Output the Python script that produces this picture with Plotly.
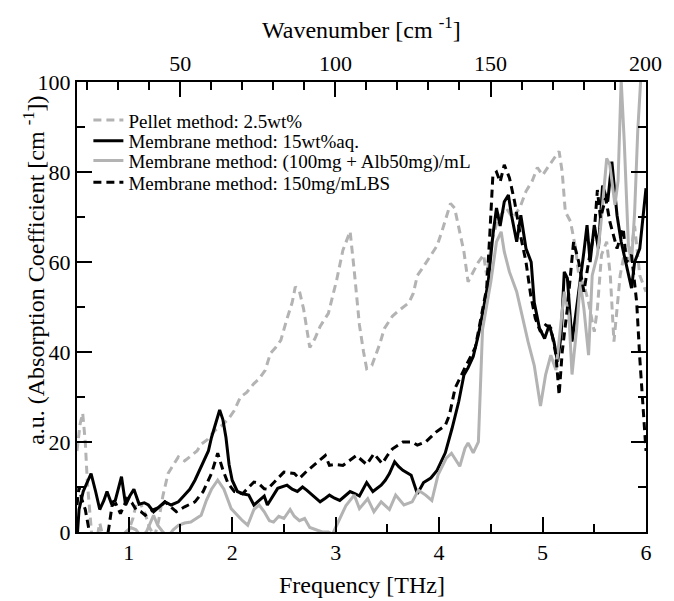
import plotly.graph_objects as go

# ---------------- data ----------------
THZ_TO_WN = 33.35641  # cm^-1 per THz

pellet_thz = [0.5, 0.53, 0.555, 0.58, 0.6, 0.64, 0.68, 0.72, 0.76, 0.82, 0.9, 0.98, 1.04, 1.08, 1.12, 1.16,
              1.2, 1.25, 1.29, 1.33, 1.38, 1.43, 1.48, 1.54, 1.61, 1.66, 1.70, 1.76, 1.83, 1.89, 1.96, 2.02,
              2.08, 2.14, 2.21, 2.26, 2.32, 2.37, 2.42, 2.47, 2.53, 2.58, 2.61, 2.65, 2.69, 2.72, 2.75, 2.8,
              2.85, 2.93, 3.01, 3.07, 3.11, 3.14, 3.18, 3.23, 3.27, 3.30, 3.35, 3.39, 3.43, 3.47, 3.55, 3.60,
              3.65, 3.71, 3.75, 3.79, 3.85, 3.90, 3.98, 4.03, 4.07, 4.11, 4.15, 4.19, 4.24, 4.28, 4.33, 4.38,
              4.43, 4.46, 4.51, 4.57, 4.65, 4.71, 4.78, 4.84, 4.9, 4.95, 5.0, 5.065, 5.11, 5.16, 5.19, 5.22,
              5.27, 5.32, 5.35, 5.40, 5.445, 5.50, 5.53, 5.57, 5.62, 5.655, 5.69, 5.72, 5.75, 5.80, 5.84, 5.89,
              5.94, 6.0]
pellet_abs = [18, 24, 26.4, 20, 11, 0, -3, 2, -2, -4, -4, -1, 3, 7, 6, 4,
              1, -1, 2.6, 8, 13, 15, 16.7, 15.8, 17, 18, 19.5, 20.5, 22.5, 23.5, 25, 27,
              30, 31, 33, 34, 36, 39.7, 41, 42.6, 47.4, 51, 54.5, 53.5, 49.6, 45, 41, 43,
              45.7, 48.6, 56, 62.6, 65, 66.8, 58, 46, 40, 36.3, 37, 39.3, 42, 45.2, 48, 49,
              50, 51, 53, 57, 59, 60.7, 63.6, 67, 70, 73, 72, 67.5, 62.3, 55.6, 57.8, 60,
              61.6, 57, 64.5, 69.8, 72, 69.8, 72, 75.7, 78, 81, 79.3, 81.6, 83, 84.6, 80, 71.2,
              69, 63, 57, 55, 51, 44.5, 49.6, 61.6, 64.5, 57, 42.3, 49.6, 57, 63, 60, 68,
              57, 53.4]

aq_thz = [0.49, 0.52, 0.56, 0.6, 0.636, 0.68, 0.72, 0.76, 0.79, 0.83, 0.87, 0.93, 0.97, 1.01, 1.05, 1.1,
          1.15, 1.19, 1.24, 1.29, 1.35, 1.41, 1.48, 1.54, 1.59, 1.64, 1.69, 1.735, 1.77, 1.80, 1.84, 1.879,
          1.91, 1.94, 1.97, 2.0, 2.05, 2.1, 2.16, 2.21, 2.27, 2.31, 2.34, 2.39, 2.44, 2.53, 2.58, 2.63,
          2.68, 2.72, 2.78, 2.85, 2.9, 2.94, 2.99, 3.04, 3.09, 3.14, 3.19, 3.23, 3.3, 3.36, 3.44, 3.48,
          3.52, 3.57, 3.61, 3.65, 3.73, 3.76, 3.79, 3.85, 3.92, 3.98, 4.02, 4.06, 4.125, 4.19, 4.24, 4.28,
          4.33, 4.38, 4.43, 4.475, 4.52, 4.555, 4.59, 4.63, 4.67, 4.70, 4.75, 4.79, 4.84, 4.89, 4.92, 4.97,
          5.02, 5.065, 5.11, 5.145, 5.18, 5.21, 5.24, 5.285, 5.32, 5.365, 5.40, 5.43, 5.46, 5.50, 5.54, 5.58,
          5.63, 5.67, 5.72, 5.76, 5.81, 5.86, 5.89, 5.94, 6.0]
aq_abs = [-5, 5, 9, 11, 13, 9, 5, 7, 9, 6.5, 7, 12.3, 6, 8, 9.5, 6.2,
          6.5, 6, 4.5, 5.5, 6.7, 6, 6.7, 8.2, 9.5, 11.5, 14, 15.9, 18, 21, 24, 27.1,
          25, 21, 15, 11.5, 9, 8.5, 8.2, 6, 7.2, 8, 6, 8, 9.7, 10.4, 9.5, 9,
          10, 9.3, 8, 6.7, 7.5, 8.2, 7.5, 7, 8, 9, 8.5, 8, 11, 9, 10.4, 11.5,
          13, 15.6, 14.5, 13.7, 12.6, 10.5, 8.5, 11, 12, 13.7, 15.5, 17.6, 23, 29, 34.9, 36.5,
          39, 43.8, 49.7, 55.6, 66, 72, 68, 73.4, 74.9, 70.4, 64.5, 70.4, 63, 60, 51, 45.3,
          43, 46, 42.3, 37.8, 43.8, 57.8, 56.4, 42.3, 48.2, 55.6, 62.3, 68.2, 60, 68.2, 63, 77,
          73.4, 82.3, 70.4, 64.5, 59.3, 54.2, 60, 63, 76.4]

alb_thz = [0.5, 0.6, 0.7, 0.8, 0.9, 0.97, 1.02, 1.07, 1.12, 1.17, 1.21, 1.24, 1.28, 1.33, 1.38, 1.43,
           1.48, 1.54, 1.6, 1.65, 1.70, 1.75, 1.80, 1.86, 1.92, 1.99, 2.05, 2.1, 2.15, 2.21, 2.26, 2.31,
           2.36, 2.4, 2.45, 2.5, 2.56, 2.6, 2.65, 2.7, 2.75, 2.81, 2.87, 2.93, 2.97, 3.01, 3.05, 3.1,
           3.18, 3.23, 3.31, 3.37, 3.44, 3.52, 3.58, 3.66, 3.74, 3.80, 3.87, 3.93, 3.99, 4.07, 4.12, 4.2,
           4.25, 4.28, 4.33, 4.38, 4.42, 4.46, 4.5, 4.555, 4.6, 4.63, 4.68, 4.75, 4.81, 4.86, 4.92, 4.98,
           5.03, 5.08, 5.13, 5.16, 5.21, 5.255, 5.285, 5.33, 5.365, 5.40, 5.445, 5.48, 5.53, 5.56, 5.62, 5.65,
           5.70, 5.73, 5.76, 5.79, 5.83, 5.86, 5.89, 5.92, 5.95, 6.0]
alb_abs = [-4, -4, -4, -3, -2, 0, 1, 0.5, -1, 0, 2, 3.7, 1.5, 0, -1, 0.5,
           1.5, 2, 2.2, 3, 3.7, 7, 9.5, 11.5, 9.5, 5.2, 3.7, 2.5, 1.5, 5, 6, 4.5,
           2.5, 2.2, 3.5, 3, 5, 3.5, 2.5, 3, 1, 0.5, 0, 0, -0.5, 1.5, 3.5, 5.9,
           8.2, 5.2, 7.4, 4.5, 6.7, 5, 8.2, 6, 6.7, 9.3, 8.2, 7, 12.7, 16.4, 17.5, 14.6,
           18.6, 19.8, 17.6, 20, 45, 50, 55.6, 64.5, 66.7, 62.3, 57.8, 53.4, 47, 42.3, 37, 28,
           35, 39.3, 36, 43, 53.4, 48, 35, 45.3, 55.6, 49.6, 39.3, 57, 61.6, 67.5, 83, 81.6,
           72.7, 78, 100.5, 86.7, 63.7, 60, 71, 89, 101, 110]

lbs_thz = [0.5, 0.52, 0.55, 0.58, 0.62, 0.66, 0.72, 0.78, 0.81, 0.84, 0.875, 0.92, 0.985, 1.03, 1.07, 1.12,
           1.16, 1.2, 1.24, 1.3, 1.35, 1.41, 1.46, 1.54, 1.64, 1.72, 1.80, 1.86, 1.91, 1.96, 2.02, 2.1,
           2.16, 2.21, 2.25, 2.31, 2.34, 2.42, 2.5, 2.6, 2.65, 2.72, 2.79, 2.85, 2.9, 2.94, 2.99, 3.07,
           3.14, 3.2, 3.25, 3.3, 3.37, 3.45, 3.5, 3.55, 3.65, 3.74, 3.79, 3.87, 3.97, 4.06, 4.1, 4.155,
           4.25, 4.35, 4.41, 4.46, 4.49, 4.52, 4.555, 4.59, 4.63, 4.68, 4.73, 4.78, 4.84, 4.885, 4.93, 4.98,
           5.03, 5.08, 5.13, 5.16, 5.19, 5.24, 5.30, 5.35, 5.40, 5.445, 5.50, 5.53, 5.56, 5.61, 5.65, 5.72,
           5.78, 5.81, 5.86, 5.91, 5.94, 5.97, 5.99, 6.0]
lbs_abs = [6, 10, 7, 5, 0, -3, -3, -3, 1.3, 6, 6.3, 4.1, 7.4, 6.5, 5, 4.5,
           3.7, 4.5, 5, 5.5, 6.7, 5.5, 4.5, 5.6, 6.7, 9, 13, 17.5, 13.8, 10.8, 9, 8.5,
           10, 11.1, 10.9, 9.6, 9.5, 11.5, 13.3, 13, 11.9, 13.5, 14.9, 16, 17, 14.8, 15, 14.8,
           16, 17, 16, 15, 17.4, 15.2, 17, 18.5, 20, 20, 19.3, 20, 22.2, 23.7, 26, 32,
           36.5, 41, 48.2, 54.2, 66, 79.3, 80, 77.8, 81.6, 78.7, 73.4, 66.7, 60, 52.7, 47.5, 44.5,
           46, 45.3, 39.3, 30.4, 40, 49.7, 64.5, 60, 53.4, 60, 66.7, 76, 69.8, 74.2, 69, 63,
           67.5, 60, 61.6, 51, 38.6, 27.6, 19.3, 18]

series_names = ["Pellet method: 2.5wt%",
                "Membrane method: 15wt%aq.",
                "Membrane method: (100mg + Alb50mg)/mL",
                "Membrane method: 150mg/mLBS"]

x_range = [0.5, 6.0]
y_range = [0, 100]
y_ticks = [0, 20, 40, 60, 80, 100]
x_ticks = [1, 2, 3, 4, 5, 6]
wn_ticks = [50, 100, 150, 200]

# ---------------- figure ----------------
GRAY = "#b3b3b3"
BLACK = "#000000"
FONT = "Liberation Serif"
DASH = "8px,5px"

fig = go.Figure()
styles = [dict(color=GRAY, width=3, dash=DASH),
          dict(color=BLACK, width=3),
          dict(color=GRAY, width=3),
          dict(color=BLACK, width=3, dash=DASH)]
xs = [pellet_thz, aq_thz, alb_thz, lbs_thz]
ys = [pellet_abs, aq_abs, alb_abs, lbs_abs]
legend_ids = ["legend", "legend2", "legend3", "legend4"]
for xv, yv, nm, st, lg in zip(xs, ys, series_names, styles, legend_ids):
    fig.add_trace(go.Scatter(x=xv, y=yv, mode="lines", name=nm, line=st, legend=lg))
# carrier trace for the top (wavenumber) axis
fig.add_trace(go.Scatter(x=[], y=[], xaxis="x2", yaxis="y", showlegend=False, hoverinfo="skip"))

tickfont = dict(family=FONT, size=22, color="black")
legfont = dict(family=FONT, size=19, color="black")
# legend row centres, in paper units of the plot area
legend_rows = [0.915, 0.869, 0.825, 0.777]

# The page body adds an 8px offset; size the figure so the plot area sits where the reference's does.
layout_legends = {}
for lg, yrow in zip(legend_ids, legend_rows):
    layout_legends[lg] = dict(x=0.02, y=yrow, xanchor="left", yanchor="middle",
                              bgcolor="rgba(0,0,0,0)", borderwidth=0, font=legfont)

fig.update_layout(
    width=666, height=593,
    margin=dict(l=69, r=21, t=74, b=69),
    paper_bgcolor="white", plot_bgcolor="white",
    font=dict(family=FONT, color="black"),
    showlegend=True,
    xaxis=dict(range=x_range, tickmode="array", tickvals=x_ticks,
               ticks="inside", ticklen=15, tickwidth=1.5, tickcolor="black",
               minor=dict(dtick=0.5, tick0=0, ticks="inside", ticklen=8, tickwidth=1.5, tickcolor="black"),
               showline=True, linecolor="black", linewidth=2, mirror=False,
               showgrid=False, zeroline=False, tickfont=tickfont),
    xaxis2=dict(range=[x_range[0] * THZ_TO_WN, x_range[1] * THZ_TO_WN], overlaying="x", side="top",
                anchor="y", tickmode="array", tickvals=wn_ticks,
                ticks="inside", ticklen=15, tickwidth=1.5, tickcolor="black",
                minor=dict(dtick=10, tick0=0, ticks="inside", ticklen=8, tickwidth=1.5, tickcolor="black"),
                showline=True, linecolor="black", linewidth=2,
                showgrid=False, zeroline=False, tickfont=tickfont),
    yaxis=dict(range=y_range, tickmode="array", tickvals=y_ticks,
               ticks="inside", ticklen=15, tickwidth=1.5, tickcolor="black",
               minor=dict(dtick=10, tick0=0, ticks="inside", ticklen=8, tickwidth=1.5, tickcolor="black"),
               showline=True, linecolor="black", linewidth=2, mirror="ticks",
               showgrid=False, zeroline=False, tickfont=tickfont),
    **layout_legends,
)

title_font = dict(family=FONT, size=24, color="black")
fig.add_annotation(text="Frequency [THz]", xref="paper", yref="paper", x=0.5, y=-0.118,
                   xanchor="center", yanchor="middle", showarrow=False, font=title_font)
fig.add_annotation(text="Wavenumber [cm <sup>-1</sup>]", xref="paper", yref="paper", x=0.5, y=1.12,
                   xanchor="center", yanchor="middle", showarrow=False, font=title_font)
fig.add_annotation(text="a.u. (Absorption Coefficient [cm <sup>-1</sup>])", xref="paper", yref="paper",
                   x=-0.076, y=0.582, xanchor="center", yanchor="middle", textangle=-90,
                   showarrow=False, font=title_font)

fig.write_html("out.html")
